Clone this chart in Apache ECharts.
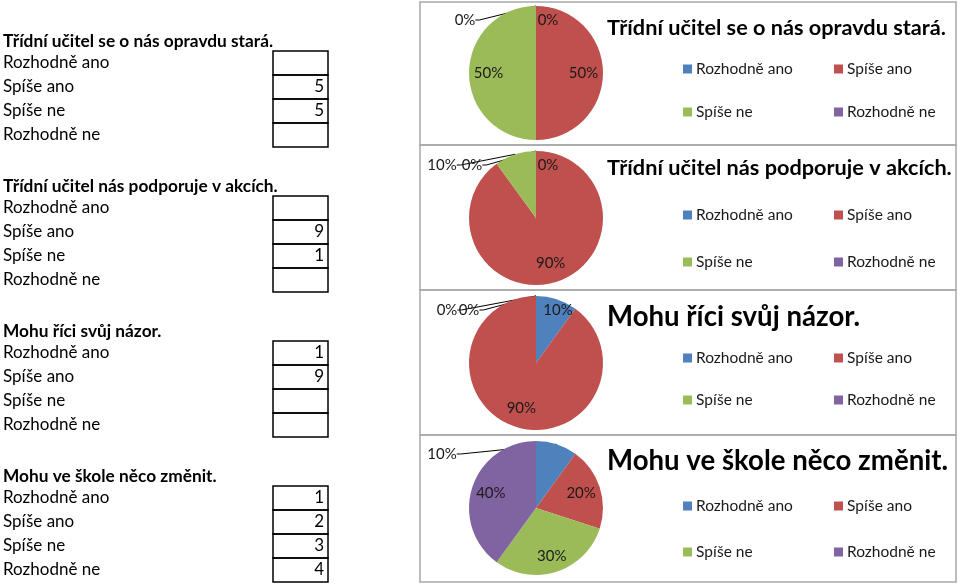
<!DOCTYPE html>
<html><head><meta charset="utf-8">
<script src="https://cdn.jsdelivr.net/npm/echarts@6/dist/echarts.min.js"></script>
<style>html,body{margin:0;padding:0;background:#fff}#c{width:960px;height:584px}</style>
</head><body><div id="c"></div>
<script>
// ---- data ----
const categories = ['Rozhodně ano', 'Spíše ano', 'Spíše ne', 'Rozhodně ne'];
const questions = [
  'Třídní učitel se o nás opravdu stará.',
  'Třídní učitel nás podporuje v akcích.',
  'Mohu říci svůj názor.',
  'Mohu ve škole něco změnit.'
];
const q1Values = [null, 5, 5, null];
const q2Values = [null, 9, 1, null];
const q3Values = [1, 9, null, null];
const q4Values = [1, 2, 3, 4];
const allValues = [q1Values, q2Values, q3Values, q4Values];

// ---- styles / layout ----
const COLORS = ['#4F81BD', '#C0504D', '#9BBB59', '#8064A2'];
const FONT = 'Lato, "Open Sans", sans-serif';
const STEP = 145;
const PIE_X = 536, PIE_Y0 = 73, R = 67;
const TITLE_Y = [28, 168, 318, 462];
const TITLE_SIZE = [21.7, 21.7, 27.6, 27.6];
const LEG_ROWS = [[69, 112], [215, 262], [358, 400], [506, 552]];
const LEG_COLS = [683, 834];
const labelPlace = [
  [{at: [12, -53]}, {k: 1.3}, {k: 1.3}, {at: [-71, -53], line: true}],
  [{at: [12, -53]}, {k: 1.3}, {at: [-94, -53], line: true}, {at: [-64, -53], line: true}],
  [{at: [22, -53]}, {k: 1.3}, {at: [-89, -53], line: true}, {at: [-67, -53], line: true}],
  [{at: [-94, -54], line: true}, {k: 1.3}, {k: 1.4}, {k: 1.3}]
];

const chart = echarts.init(document.getElementById('c'), null, {renderer: 'canvas'});

const series = allValues.map((vals, s) => ({
  type: 'pie',
  center: [PIE_X, PIE_Y0 + s * STEP],
  radius: R,
  startAngle: 90,
  clockwise: true,
  avoidLabelOverlap: false,
  animation: false,
  silent: true,
  itemStyle: {borderWidth: 0},
  label: {show: true, position: 'inside', formatter: '{d}%', color: '#1a1a1a', fontFamily: FONT, fontSize: 15},
  labelLine: {show: false},
  data: categories.map((c, i) => {
    const p = labelPlace[s][i];
    const item = {name: c, value: vals[i] == null ? 0 : vals[i], itemStyle: {color: COLORS[i]}};
    if (p.line) {
      item.label = {position: 'outside'};
      item.labelLine = {show: true, length: 4, length2: 4, smooth: false, lineStyle: {color: '#000', width: 1}};
    }
    return item;
  }),
  labelLayout: function (params) {
    const p = labelPlace[s][params.dataIndex];
    const cx = PIE_X, cy = PIE_Y0 + s * STEP;
    if (p.at) return {x: cx + p.at[0], y: cy + p.at[1], align: 'center', verticalAlign: 'middle'};
    const r = params.labelRect;
    const lx = r.x + r.width / 2, ly = r.y + r.height / 2;
    return {dx: (lx - cx) * (p.k - 1), dy: (ly - cy) * (p.k - 1)};
  }
}));

const titles = questions.map((q, s) => ({
  text: q, left: 607, top: TITLE_Y[s] - TITLE_SIZE[s] * 0.62 + 2, padding: 0,
  textStyle: {fontFamily: FONT, fontWeight: 'bold', fontSize: TITLE_SIZE[s], color: '#000'}
}));

const legends = [];
LEG_ROWS.forEach((rows, s) => {
  LEG_COLS.forEach((x, c) => {
    legends.push({
      orient: 'vertical', left: x, top: rows[0] - 8, padding: 0,
      itemWidth: 9, itemHeight: 9, icon: 'rect',
      itemGap: rows[1] - rows[0] - 16,
      selectedMode: false,
      textStyle: {fontFamily: FONT, fontSize: 15.5, color: '#1a1a1a', padding: [0, 0, 0, -1]},
      data: c === 0 ? [categories[0], categories[2]] : [categories[1], categories[3]]
    });
  });
});

const graphic = [];
const boxes = [[2, 145], [145, 290], [290, 435], [435, 582]];
boxes.forEach(b => graphic.push({
  type: 'rect', shape: {x: 420, y: b[0], width: 536, height: b[1] - b[0]},
  style: {fill: 'none', stroke: '#a8a8a8', lineWidth: 1.5}, silent: true, z: 0
}));
questions.forEach((q, s) => {
  const oy = s * STEP;
  graphic.push({type: 'text', x: 3, y: oy + 41,
    style: {text: q, font: 'bold 17.3px ' + FONT, fill: '#000', textVerticalAlign: 'middle'}});
  categories.forEach((c, i) => {
    graphic.push({type: 'text', x: 3, y: oy + 63 + 24 * i,
      style: {text: c, font: '17px ' + FONT, fill: '#000', textVerticalAlign: 'middle'}});
    graphic.push({type: 'rect', shape: {x: 273, y: oy + 51 + 24 * i, width: 55, height: 24},
      style: {fill: 'none', stroke: '#000', lineWidth: 1.5}});
    const v = allValues[s][i];
    if (v != null) graphic.push({type: 'text', x: 324, y: oy + 63 + 24 * i,
      style: {text: String(v), font: '17px ' + FONT, fill: '#000', textAlign: 'right', textVerticalAlign: 'middle'}});
  });
});

chart.setOption({
  backgroundColor: '#fff',
  animation: false,
  title: titles,
  legend: legends,
  graphic: graphic,
  series: series
});
</script>
</body></html>
